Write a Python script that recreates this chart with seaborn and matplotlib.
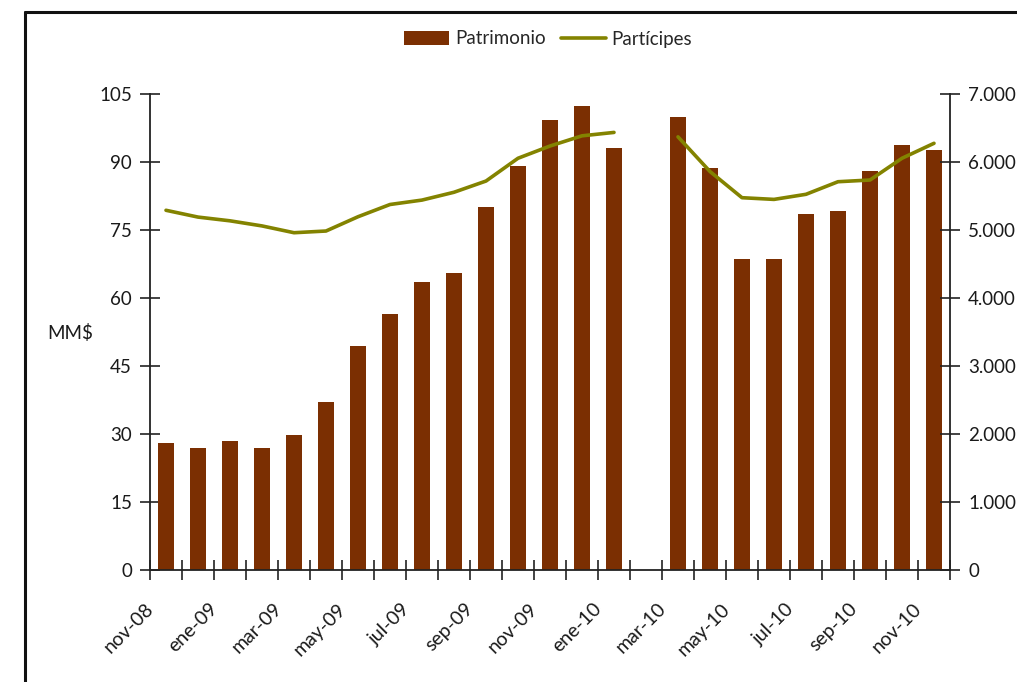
import numpy as np
import pandas as pd
import matplotlib
matplotlib.use("Agg")
import matplotlib.pyplot as plt
import seaborn as sns
from matplotlib.lines import Line2D
from matplotlib.patches import Patch
import matplotlib.transforms as mtransforms

months = ["nov-08", "dic-08", "ene-09", "feb-09", "mar-09", "abr-09", "may-09", "jun-09",
          "jul-09", "ago-09", "sep-09", "oct-09", "nov-09", "dic-09", "ene-10", "feb-10",
          "mar-10", "abr-10", "may-10", "jun-10", "jul-10", "ago-10", "sep-10", "oct-10", "nov-10"]
patrimonio = [28.0, 26.9, 28.4, 26.9, 29.7, 37.0, 49.4, 56.4, 63.5, 65.6, 80.0, 89.1,
              99.2, 102.3, 93.1, np.nan, 99.9, 88.7, 68.7, 68.7, 78.5, 79.3, 88.0, 93.7, 92.6]
participes = [5290, 5190, 5135, 5060, 4960, 4985, 5195, 5375, 5440, 5555, 5720, 6055,
              6235, 6385, 6435, np.nan, 6370, 5860, 5475, 5450, 5525, 5710, 5735, 6055, 6275]
segment = [0] * 15 + [-1] + [1] * 9
left_ticks = [0, 15, 30, 45, 60, 75, 90, 105]
right_ticks = [0, 1000, 2000, 3000, 4000, 5000, 6000, 7000]
right_labels = ["0", "1.000", "2.000", "3.000", "4.000", "5.000", "6.000", "7.000"]

BAR = "#7B2F02"
LINE = "#838300"
FONT = "Lato"
TXT = "#1a1a1a"

sns.set_theme(style="white")
plt.rcParams["font.family"] = [FONT, "DejaVu Sans"]

df = pd.DataFrame({"mes": months, "pos": np.arange(len(months)), "patrimonio": patrimonio,
                   "participes": participes, "seg": segment})

fig = plt.figure(figsize=(10.17, 6.82), dpi=100)
ax = fig.add_axes([150 / 1017, 1 - 570 / 682, 800 / 1017, 476 / 682])

sns.barplot(data=df, x="mes", y="patrimonio", order=months, color=BAR, width=0.53,
            saturation=1, ax=ax, edgecolor="none")
ax.set_xlim(-0.5, len(months) - 0.5)
ax.set_ylim(0, 105)
ax.set_yticks(left_ticks)
ax.set_yticklabels([str(t) for t in left_ticks], fontsize=13.5, color=TXT)
ax.set_xlabel("")
ax.set_ylabel("")

ax2 = ax.twinx()
dl = df[df["seg"] >= 0]
sns.lineplot(data=dl, x="pos", y="participes", units="seg", estimator=None, color=LINE,
             linewidth=2.6, ax=ax2, legend=False)
ax2.set_ylim(0, 7000)
ax2.set_xlim(-0.5, len(months) - 0.5)
ax2.set_yticks(right_ticks)
ax2.set_yticklabels(right_labels, fontsize=13.5, color=TXT)
ax2.set_ylabel("")
ax2.set_xlabel("")

# x ticks at category boundaries
ax.set_xticks(np.arange(-0.5, len(months), 1.0))
ax.set_xticklabels([])
for a in (ax, ax2):
    for s in a.spines.values():
        s.set_visible(False)
ax.spines["left"].set_visible(True)
ax.spines["bottom"].set_visible(True)
ax2.spines["right"].set_visible(True)
for sp in (ax.spines["left"], ax.spines["bottom"], ax2.spines["right"]):
    sp.set_color("#222222")
    sp.set_linewidth(1.3)

ax.tick_params(axis="x", direction="inout", length=14, width=1.2, color="#222222", bottom=True)
ax.tick_params(axis="y", direction="inout", length=14, width=1.2, color="#222222", left=True, pad=6)
ax2.tick_params(axis="y", direction="inout", length=14, width=1.2, color="#222222", right=True, pad=6)

# rotated month labels every other category
offset = mtransforms.ScaledTranslation(0, -36 / 100, fig.dpi_scale_trans)
trans = mtransforms.blended_transform_factory(ax.transData, ax.transAxes) + offset
for i in range(0, len(months), 2):
    ax.text(i - 0.47, 0, months[i], transform=trans, rotation=45, rotation_mode="anchor",
            ha="right", va="center", fontsize=14, color=TXT)

fig.text(70 / 1017, 1 - 333 / 682, "MM$", ha="center", va="center", fontsize=13.5, color=TXT)

handles = [Patch(facecolor=BAR, edgecolor="none"),
           Line2D([0], [0], color=LINE, linewidth=2.6)]
fig.legend(handles, ["Patrimonio", "Partícipes"], loc="center", bbox_to_anchor=(548 / 1017, 1 - 39 / 682),
           ncol=2, frameon=False, fontsize=13.5, handlelength=2.4, handleheight=0.8,
           columnspacing=0.8, handletextpad=0.3)

# outer border (left and top)
fig.add_artist(Line2D([25 / 1017, 25 / 1017], [0, 1 - 12 / 682], transform=fig.transFigure,
                      color="#111111", linewidth=2.2))
fig.add_artist(Line2D([25 / 1017, 1], [1 - 12 / 682, 1 - 12 / 682], transform=fig.transFigure,
                      color="#111111", linewidth=2.2))

fig.savefig("out.png", dpi=100, facecolor="white")
